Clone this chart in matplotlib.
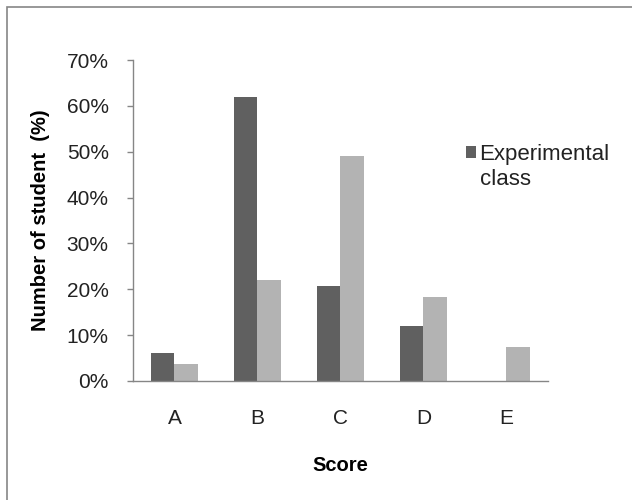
import matplotlib.pyplot as plt
import numpy as np
from matplotlib.patches import Rectangle

plt.rcParams['font.family'] = ['Liberation Sans', 'DejaVu Sans']

# Data (percent of students)
scores = ['A', 'B', 'C', 'D', 'E']
experimental = [6.0, 62.0, 20.8, 11.9, 0.0]
control = [3.8, 22.0, 49.0, 18.3, 7.4]
series_names = ['Experimental class', 'Control class']

fig = plt.figure(figsize=(6.32, 5.0), dpi=100)
ax = fig.add_axes([0.2104, 0.238, 0.6566, 0.642])

# outer chart border (right/bottom edges are cut off in the original)
fig.patches.append(Rectangle((7 / 632, -0.1), 1.2, 1 - 7 / 500 + 0.1,
                             transform=fig.transFigure, fill=False,
                             edgecolor='#868686', linewidth=1.2))

x = np.arange(len(scores))
w = 1 / 3.5
first, rest = series_names[0].split(' ', 1)
ax.bar(x - w / 2, experimental, width=w, color='#606060', label=first)
ax.bar(x + w / 2, control, width=w, color='#b3b3b3')

ax.set_xlim(-0.5, len(scores) - 0.5)
ax.set_ylim(0, 70)
ax.set_yticks(np.arange(0, 71, 10))
ax.set_yticklabels([f'{v}%' for v in range(0, 71, 10)])
ax.set_xticks(x)
ax.set_xticklabels(scores)

for side in ['top', 'right']:
    ax.spines[side].set_visible(False)
for side in ['left', 'bottom']:
    ax.spines[side].set_color('#868686')
    ax.spines[side].set_linewidth(1.0)

ax.tick_params(axis='y', length=4.5, width=1, color='#868686', pad=13,
               labelsize=15, labelcolor='#222222')
ax.tick_params(axis='x', length=0, pad=20, labelsize=15, labelcolor='#222222')

ax.set_ylabel('Number of student  (%)', fontsize=14.5, fontweight='bold', labelpad=12)
ax.set_xlabel('Score', fontsize=14.5, fontweight='bold', labelpad=20)

leg = ax.legend(loc='upper left', bbox_to_anchor=(0.781, 0.765), frameon=False,
                fontsize=16, handlelength=0.45, handleheight=0.45,
                handletextpad=0.16, borderaxespad=0)
leg.get_texts()[0].set_color('#222222')
# second line of the wrapped legend label (handle stays beside the first line)
ax.annotate(rest, xy=(0, 0), xycoords=leg.get_texts()[0],
            xytext=(0, -25), textcoords='offset pixels', zorder=6,
            fontsize=16, color='#222222', ha='left', va='bottom')

fig.savefig('out.png', dpi=100)
